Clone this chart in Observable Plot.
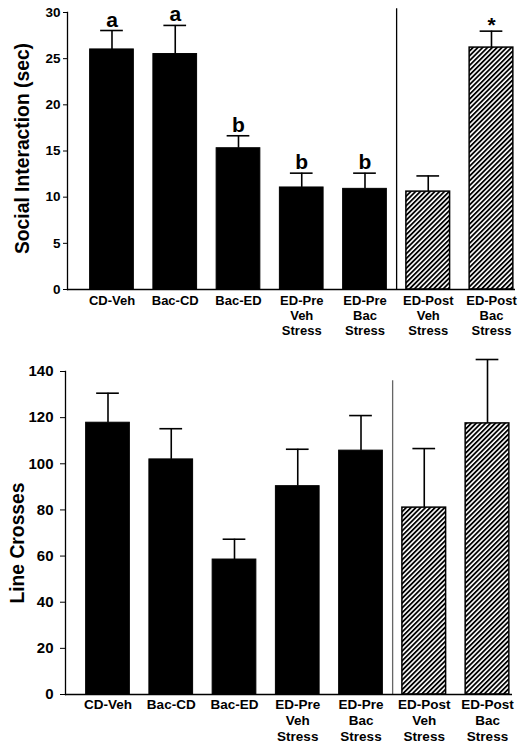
<!DOCTYPE html>
<html><head><meta charset="utf-8">
<script src="https://cdn.jsdelivr.net/npm/d3@7"></script>
<script src="https://cdn.jsdelivr.net/npm/@observablehq/plot@0.6"></script>
<style>body{margin:0;background:#fff} svg{display:block}</style>
</head><body><div id="chart"></div>
<script>
const categories = ["CD-Veh", "Bac-CD", "Bac-ED", "ED-Pre\nVeh\nStress", "ED-Pre\nBac\nStress", "ED-Post\nVeh\nStress", "ED-Post\nBac\nStress"];
const hatched = [false, false, false, false, false, true, true];
const socialMean = [26.0, 25.5, 15.3, 11.05, 10.9, 10.6, 26.2];
const socialUpper = [28.05, 28.6, 16.65, 12.6, 12.6, 12.3, 27.98];
const socialLetters = ["a", "a", "b", "b", "b", "", ""];
const socialStars = ["", "", "", "", "", "", "*"];
const crossMean = [117.8, 101.9, 58.5, 90.3, 105.7, 81.0, 117.5];
const crossUpper = [130.6, 115.2, 67.3, 106.3, 120.9, 106.6, 145.2];
const noMarks = ["", "", "", "", "", "", ""];
const socialTicks = [0, 5, 10, 15, 20, 25, 30];
const crossTicks = [0, 20, 40, 60, 80, 100, 120, 140];
const socialLabel = "Social Interaction (sec)";
const crossLabel = "Line Crosses";

const FONT = "'Liberation Sans', Arial, Helvetica, sans-serif";

function makeChart(cfg) {
  const data = categories.map((c, i) => ({
    cat: c, mean: cfg.mean[i], upper: cfg.upper[i], hatched: hatched[i],
    letter: cfg.letters[i], star: cfg.stars[i]
  }));
  const pInner = 0.309, pOuter = cfg.pOuter;
  const r0 = cfg.marginLeft, r1 = cfg.width - cfg.marginRight;
  const band = d3.scaleBand().domain(categories).range([r0, r1])
    .paddingInner(pInner).paddingOuter(pOuter).align(cfg.align);
  const step = band.step();
  const pid = "hatch-" + cfg.id;
  const defs = () => {
    const d = d3.create("svg:defs");
    const p = d.append("pattern").attr("id", pid).attr("patternUnits", "userSpaceOnUse")
      .attr("width", 3.4).attr("height", 3.4).attr("patternTransform", "rotate(45)");
    p.append("rect").attr("width", 3.4).attr("height", 3.4).attr("fill", "white");
    p.append("rect").attr("width", 1.8).attr("height", 3.4).attr("fill", "black");
    return d.node();
  };
  return Plot.plot({
    width: cfg.width, height: cfg.height,
    marginTop: cfg.marginTop, marginBottom: cfg.marginBottom,
    marginLeft: cfg.marginLeft, marginRight: cfg.marginRight,
    style: {fontFamily: FONT, fontSize: "13px", fontWeight: "bold", color: "black", background: "white"},
    x: {type: "band", domain: categories, paddingInner: pInner, paddingOuter: pOuter, align: cfg.align, round: false, axis: null},
    y: {domain: [0, cfg.yMax], axis: null},
    marks: [
      defs,
      Plot.barY(data.filter(d => !d.hatched), {x: "cat", y: "mean", fill: "black", stroke: "black", strokeWidth: 1}),
      Plot.barY(data.filter(d => d.hatched), {x: "cat", y: "mean", fill: `url(#${pid})`, stroke: "black", strokeWidth: 1.5}),
      Plot.ruleX(data, {x: "cat", y1: "mean", y2: "upper", stroke: "black", strokeWidth: 1.6}),
      Plot.tickY(data, {x: "cat", y: "upper", insetLeft: 10.5, insetRight: 10.5, stroke: "black", strokeWidth: 1.6}),
      Plot.text(data, {x: "cat", y: "upper", text: "letter", dy: -4, lineAnchor: "bottom", fontSize: 21, fontWeight: "bold", fill: "black"}),
      Plot.text(data, {x: "cat", y: "upper", text: "star", dy: 0.5, lineAnchor: "bottom", fontSize: 21, fontWeight: "bold", fill: "black"}),
      Plot.ruleX([categories[5]], {x: d => d, dx: -step / 2, y1: 0, y2: cfg.dividerTop, stroke: cfg.dividerColor, strokeWidth: 1.3}),
      Plot.axisY({ticks: cfg.ticks, tickSize: cfg.tickSize, tickPadding: cfg.yPad, label: null, fontSize: cfg.yFont, fontWeight: "bold"}),
      Plot.axisX({tickSize: 0, tickPadding: cfg.xPad, label: null, lineHeight: 1.18, fontSize: cfg.xFont, fontWeight: "bold"}),
      Plot.frame({anchor: "left", stroke: "black", strokeWidth: 1.3}),
      Plot.ruleY([0], {stroke: "black", strokeWidth: 1.5}),
      Plot.text([cfg.label], {text: d => d, frameAnchor: "left", rotate: -90, dx: cfg.labelDx, dy: cfg.labelDy, fontSize: 19.3, fontWeight: "bold", textAnchor: "middle", fill: "black"})
    ]
  });
}

const topChart = makeChart({
  id: "top", mean: socialMean, upper: socialUpper, letters: socialLetters, stars: socialStars,
  ticks: socialTicks, yMax: 30, label: socialLabel, dividerTop: 30.4, dividerColor: "black",
  width: 530, height: 350, marginTop: 12, marginBottom: 61, marginLeft: 67, marginRight: 15,
  pOuter: 0.196, align: 0.913, tickSize: 4, yPad: 3, yFont: 13.5, xPad: 4.3, xFont: 13,
  labelDx: -45, labelDy: -2.5
});
const bottomChart = makeChart({
  id: "bottom", mean: crossMean, upper: crossUpper, letters: noMarks, stars: noMarks,
  ticks: crossTicks, yMax: 140, label: crossLabel, dividerTop: 136, dividerColor: "#666",
  width: 530, height: 398, marginTop: 21, marginBottom: 54, marginLeft: 65, marginRight: 18,
  pOuter: 0.188, align: 0.868, tickSize: 5, yPad: 7, yFont: 15, xPad: 3.4, xFont: 13.5,
  labelDx: -48, labelDy: 10
});
document.getElementById("chart").append(topChart, bottomChart);
</script>
</body></html>
